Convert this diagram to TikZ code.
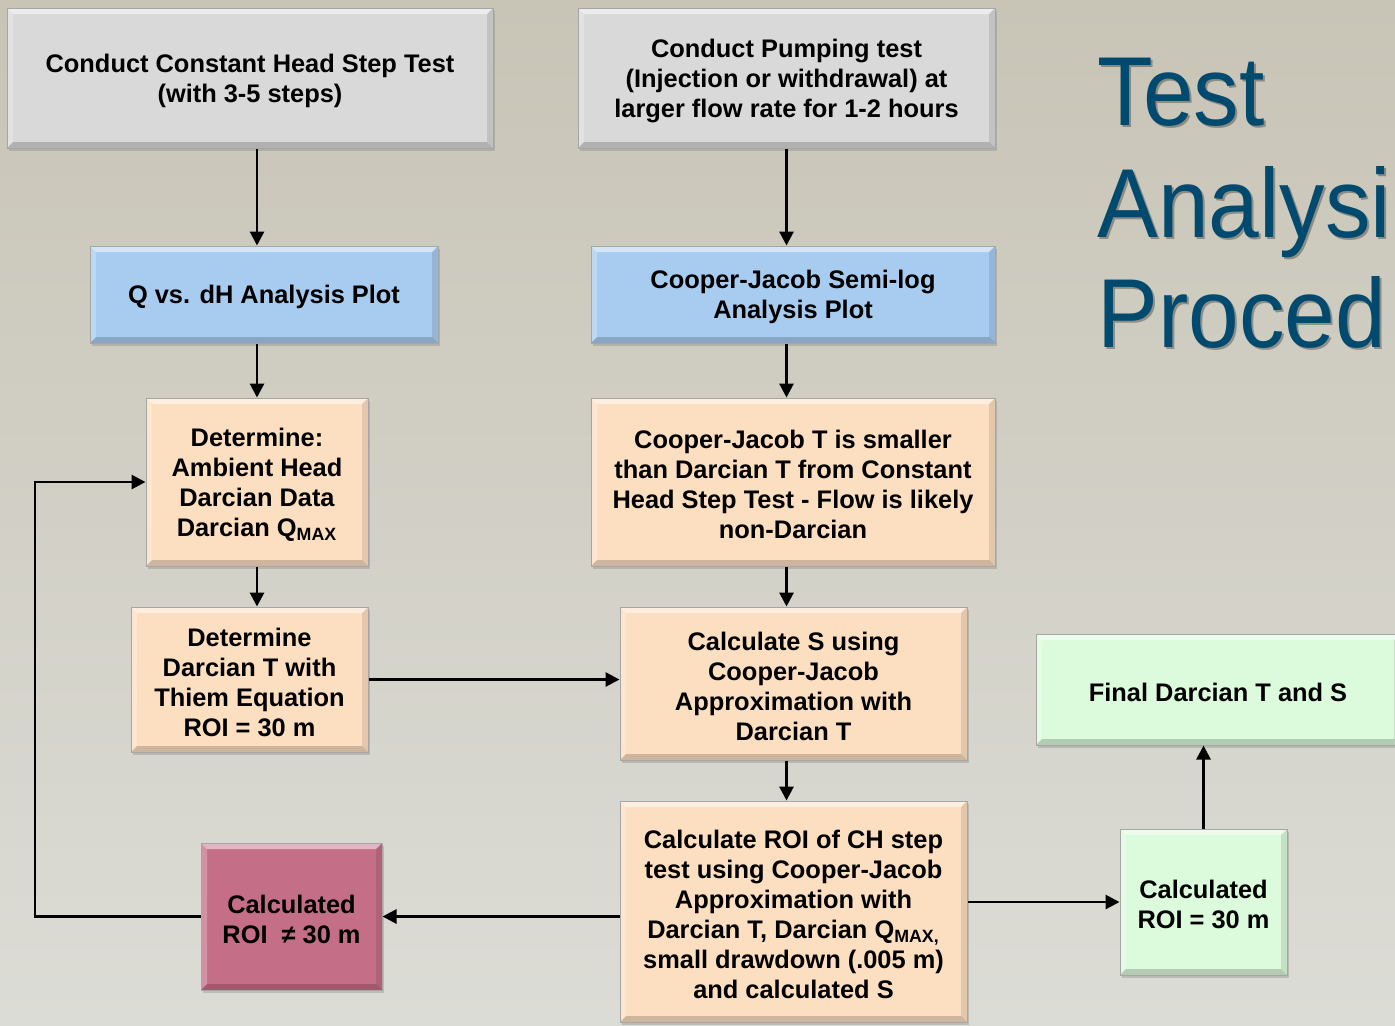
\documentclass[tikz,border=0pt]{standalone}
\usepackage{fontspec}
\usepackage{graphicx}
\setmainfont{Liberation Sans}
\usetikzlibrary{arrows.meta,shadows,calc}

\definecolor{bgtop}{RGB}{200,196,182}
\definecolor{bgmid}{RGB}{210,208,198}
\definecolor{bgbot}{RGB}{220,220,214}
\definecolor{cgray}{RGB}{217,217,217}
\definecolor{cblue}{RGB}{168,203,240}
\definecolor{cpeach}{RGB}{252,222,192}
\definecolor{cred}{RGB}{196,110,135}
\definecolor{cgreen}{RGB}{220,250,220}
\definecolor{ctitle}{RGB}{0,74,111}

% bevelled edges of the boxes
\newcommand\boxbevel{%
  \fill[white,opacity=0.5] (path picture bounding box.north west) -- (path picture bounding box.north east)
     -- ([shift={(-3pt,-3pt)}]path picture bounding box.north east) -- ([shift={(3pt,-3pt)}]path picture bounding box.north west) -- cycle;
  \fill[white,opacity=0.25] (path picture bounding box.north west) -- (path picture bounding box.south west)
     -- ([shift={(3pt,3pt)}]path picture bounding box.south west) -- ([shift={(3pt,-3pt)}]path picture bounding box.north west) -- cycle;
  \fill[black,opacity=0.18] (path picture bounding box.south west) -- (path picture bounding box.south east)
     -- ([shift={(-3pt,3pt)}]path picture bounding box.south east) -- ([shift={(3pt,3pt)}]path picture bounding box.south west) -- cycle;
  \fill[black,opacity=0.1] (path picture bounding box.north east) -- (path picture bounding box.south east)
     -- ([shift={(-3pt,3pt)}]path picture bounding box.south east) -- ([shift={(-3pt,-3pt)}]path picture bounding box.north east) -- cycle;
}
% taller first line, so the text sits a little low in its box
\newcommand\topgap{\rule{0pt}{12pt}}

\tikzset{
  card/.style={draw=black!35, line width=0.5pt, align=center, inner sep=0pt,
    font=\fontsize{12.7}{15}\selectfont\bfseries,
    drop shadow={opacity=0.35,shadow xshift=1.2pt,shadow yshift=-1.5pt},
    path picture={\boxbevel}},
  graycard/.style={card, fill=cgray},
  bluecard/.style={card, fill=cblue},
  peachcard/.style={card, fill=cpeach},
  redcard/.style={card, fill=cred},
  greencard/.style={card, fill=cgreen},
  flow/.style={line width=1.45pt, -{Triangle[length=7pt,width=7pt]}},
  titletext/.style={anchor=base west, inner sep=0pt, text=ctitle,
    font=\fontsize{49}{55}\selectfont},
  titleshadow/.style={titletext, text=black, opacity=0.3}
}

\begin{document}
\begin{tikzpicture}[x=0.5pt,y=-0.5pt]
\useasboundingbox (0,0) rectangle (1395,1025);
\clip (0,0) rectangle (1395,1025);
\shade[top color=bgtop, bottom color=bgmid] (0,0) rectangle (1395,512.5);
\shade[top color=bgmid, bottom color=bgbot] (0,512.5) rectangle (1395,1025);

% heading
\node[titleshadow] (t1s) at (1099,127) {\scalebox{0.93}[1]{Test}};
\node[titleshadow] (t2s) at (1099,239) {\scalebox{0.93}[1]{Analysi}};
\node[titleshadow] (t3s) at (1099,349) {\scalebox{0.93}[1]{Proced}};
\node[titletext] (t1) at (1097,125) {\scalebox{0.93}[1]{Test}};
\node[titletext] (t2) at (1097,237) {\scalebox{0.93}[1]{Analysi}};
\node[titletext] (t3) at (1097,347) {\scalebox{0.93}[1]{Proced}};

% boxes
\node[graycard, minimum width=243pt, minimum height=70pt] (b1) at (250,78)
  {\topgap Conduct Constant Head Step Test\\(with 3-5 steps)};
\node[graycard, minimum width=208.5pt, minimum height=70pt] (b2) at (786.5,78)
  {\topgap Conduct Pumping test\\(Injection or withdrawal) at\\larger flow rate for 1-2 hours};
\node[bluecard, minimum width=174pt, minimum height=48.5pt] (b3) at (264,294.5)
  {\topgap Q vs. dH Analysis Plot};
\node[bluecard, minimum width=202pt, minimum height=48.5pt] (b4) at (793,294.5)
  {\topgap Cooper-Jacob Semi-log\\Analysis Plot};
\node[peachcard, minimum width=111pt, minimum height=84pt] (b5) at (257,482)
  {\topgap Determine:\\Ambient Head\\Darcian Data\\Darcian Q\textsubscript{MAX}};
\node[peachcard, minimum width=202pt, minimum height=84pt] (b6) at (793,482)
  {\topgap Cooper-Jacob T is smaller\\than Darcian T from Constant\\Head Step Test - Flow is likely\\non-Darcian};
\node[peachcard, minimum width=118.5pt, minimum height=72.5pt] (b7) at (249.5,679.5)
  {\topgap Determine\\Darcian T with\\Thiem Equation\\ROI = 30 m};
\node[peachcard, minimum width=173.5pt, minimum height=76.5pt] (b8) at (793.5,683.5)
  {\topgap Calculate S using\\Cooper-Jacob\\Approximation with\\Darcian T};
\node[peachcard, minimum width=173.5pt, minimum height=110.5pt] (b9) at (793.5,911.5)
  {\topgap Calculate ROI of CH step\\test using Cooper-Jacob\\Approximation with\\Darcian T, Darcian Q\textsubscript{MAX,}\\small drawdown (.005 m)\\and calculated S};
\node[redcard, minimum width=90.5pt, minimum height=73.5pt] (b10) at (291.5,916.5)
  {\topgap Calculated\\ROI\ \ ≠ 30 m};
\node[greencard, minimum width=182pt, minimum height=55.5pt] (b11) at (1218,689.5)
  {\topgap Final Darcian T and S};
\node[greencard, minimum width=83.5pt, minimum height=73pt] (b12) at (1203.5,902)
  {\topgap Calculated\\ROI = 30 m};

% connectors
\coordinate (lp) at (35,700);
\draw[flow] (b5.north |- b1.south) -- (b5.north |- b3.north);
\draw[flow] (b2.south) -- (b2.south |- b4.north);
\draw[flow] (b5.north |- b3.south) -- (b5.north);
\draw[flow] (b2.south |- b4.south) -- (b2.south |- b6.north);
\draw[flow] (b5.south) -- (b5.south |- b7.north);
\draw[flow] (b2.south |- b6.south) -- (b2.south |- b8.north);
\draw[flow] (b7.east) -- (b7.east -| b8.west);
\draw[flow] (b2.south |- b8.south) -- (b2.south |- b9.north);
\draw[flow] (b9.west |- b10.east) -- (b10.east);
\draw[flow] (b10.west) -| (lp) |- (b5.west);
\draw[flow] (b9.east |- b12.west) -- (b12.west);
\draw[flow] (b12.north) -- (b12.north |- b11.south);
\end{tikzpicture}
\end{document}
